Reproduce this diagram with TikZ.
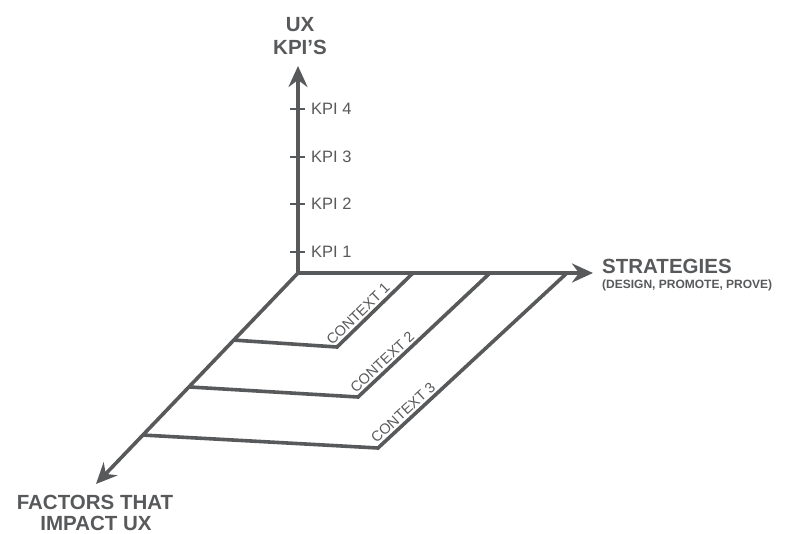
\documentclass[tikz,border=0pt]{standalone}
\usepackage{fontspec}
\setmainfont{Liberation Sans}
\usetikzlibrary{arrows.meta,calc}
\definecolor{uxgray}{HTML}{58595B}
\tikzset{
  axis line/.style={
    draw=uxgray,
    line width=3.6pt,
    -{Stealth[length=21pt,width=19pt,inset=7pt]},
  },
  context line/.style={
    draw=uxgray,
    line width=3.6pt,
  },
  tick mark/.style={
    draw=uxgray,
    line width=2.6pt,
  },
  axis title/.style={
    text=uxgray,
    font=\bfseries\fontsize{20.5}{24}\selectfont,
    inner sep=0pt,
  },
  kpi label/.style={
    text=uxgray,
    font=\fontsize{16.5}{19}\selectfont,
    anchor=west,
    inner sep=0pt,
  },
  context label/.style={
    text=uxgray,
    font=\fontsize{14.5}{17}\selectfont,
    sloped,
    above,
    inner sep=2pt,
  }
}

\begin{document}
\begin{tikzpicture}[x=1pt,y=1pt]
        \useasboundingbox (0,0) rectangle (786,-534);

        \coordinate (o) at (298,-273);
        \coordinate (kpi end) at (298,-66);
        \coordinate (strat end) at (593,-273);
        \coordinate (fact end) at (96,-484);

        % context planes
        \coordinate (c1a) at ($(o)!0.318!(fact end)$);
        \coordinate (c1b) at (337,-347);
        \coordinate (c1c) at (413,-273);
        \coordinate (c2a) at ($(o)!0.540!(fact end)$);
        \coordinate (c2b) at (358,-397);
        \coordinate (c2c) at (490,-273);
        \coordinate (c3a) at ($(o)!0.768!(fact end)$);
        \coordinate (c3b) at (378,-448);
        \coordinate (c3c) at (567,-273);

        \draw [context line] (c1a) -- (c1b) -- node [context label, pos=0.36] (ctx1) {CONTEXT 1} (c1c);
        \draw [context line] (c2a) -- (c2b) -- node [context label, pos=0.23] (ctx2) {CONTEXT 2} (c2c);
        \draw [context line] (c3a) -- (c3b) -- node [context label, pos=0.165] (ctx3) {CONTEXT 3} (c3c);

        % axes
        \draw [axis line] (o) -- (kpi end);
        \draw [axis line] (o) -- (strat end);
        \draw [axis line] (o) -- (fact end);

        \foreach \k/\y in {1/-252,2/-204,3/-157,4/-109} {
          \draw [tick mark] (290,\y) -- (305,\y);
          \node [kpi label] (kpi\k) at (311,\y) {KPI \k};
        }

        \node [axis title, anchor=base] (ux) at (300,-32) {UX};
        \node [axis title, anchor=base] (kpis) at (300,-55) {KPI’S};
        \node [axis title, anchor=base west] (strategies) at (602,-273) {STRATEGIES};
        \node [axis title, anchor=base west, font=\bfseries\fontsize{12}{14}\selectfont] (strat sub) at (602,-289) {(DESIGN, PROMOTE, PROVE)};
        \node [axis title, anchor=base] (factors) at (95,-509) {FACTORS THAT};
        \node [axis title, anchor=base] (impact) at (96,-530) {IMPACT UX};
      \end{tikzpicture}
\end{document}
